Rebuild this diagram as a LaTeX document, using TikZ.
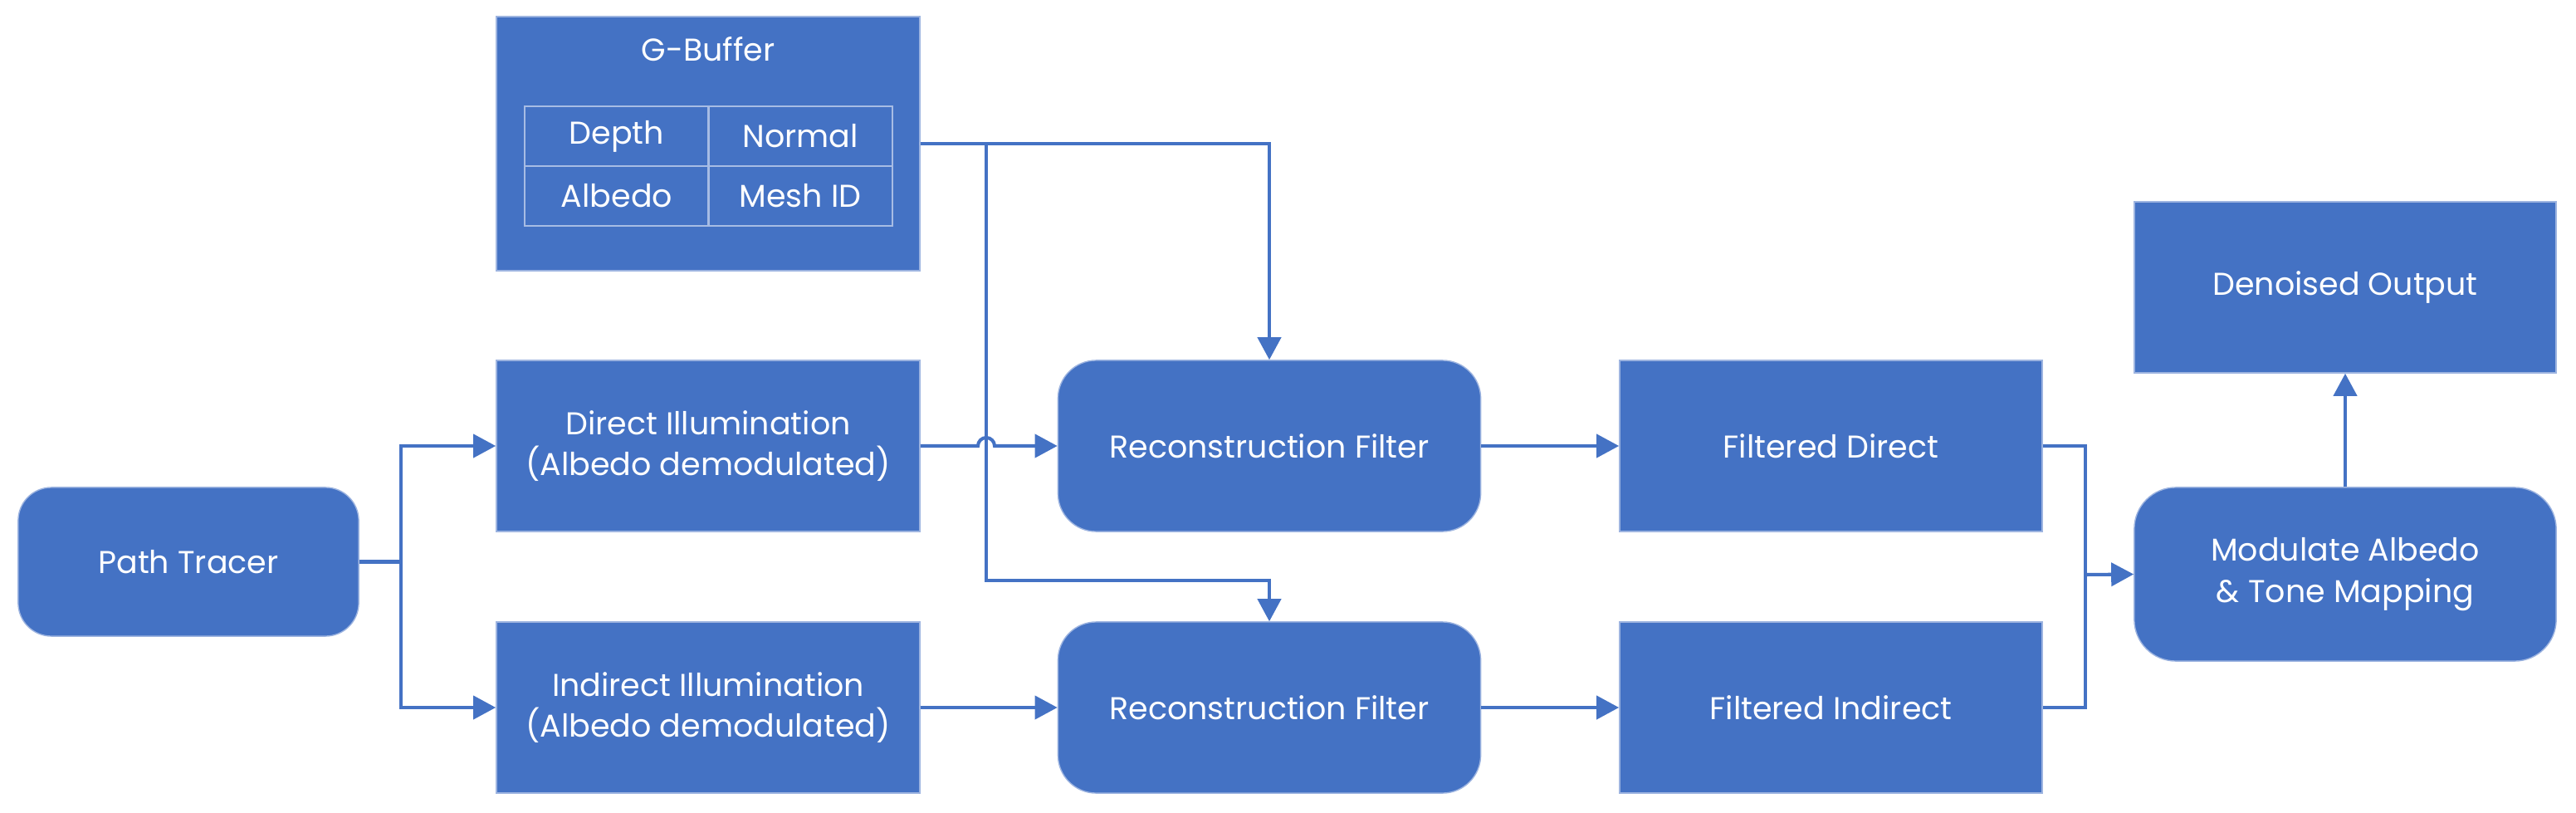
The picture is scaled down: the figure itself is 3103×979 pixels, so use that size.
\documentclass[tikz,border=0pt]{standalone}
\usepackage{fontspec}
\setmainfont{Poppins}
\usetikzlibrary{arrows.meta}
\definecolor{boxblue}{HTML}{4472C4}
\definecolor{edgeblue}{HTML}{9DB4E0}
\definecolor{gridline}{HTML}{A7BCE4}
\tikzset{
  base/.style={fill=boxblue, draw=edgeblue, line width=0.4pt, text=white, align=center,
    inner sep=0pt, font=\fontsize{10.8}{14}\selectfont},
  sqbox/.style={base, minimum width=5.10cm, minimum height=2.06cm},
  rndbox/.style={base, minimum width=5.09cm, minimum height=2.06cm, rounded corners=0.46cm},
  cellbox/.style={draw=gridline, line width=0.6pt, text=white, inner sep=0pt,
    minimum width=2.21cm, minimum height=0.72cm, font=\fontsize{10.8}{14}\selectfont},
  conn/.style={draw=boxblue, line width=1.15pt},
  arr/.style={conn, -{Triangle[length=0.27cm, width=0.28cm]}},
}
\begin{document}
\begin{tikzpicture}[x=0.01cm, y=-0.01cm]
\useasboundingbox (0,0) rectangle (3103,979);
% nodes
\node[base, minimum width=4.10cm, minimum height=1.79cm, rounded corners=0.40cm] (pt) at (227,676.5) {Path Tracer};
\node[sqbox, minimum height=3.06cm] (gbuf) at (853,173) {};
\node[text=white, inner sep=0pt, font=\fontsize{10.8}{14}\selectfont] (gtitle) at (853,59) {G-Buffer};
\node[cellbox] (depth) at (743,164) {Depth};
\node[cellbox] (normal) at (964,164) {Normal};
\node[cellbox] (albedo) at (743,236) {Albedo};
\node[cellbox] (meshid) at (964,236) {Mesh ID};
\node[sqbox] (direct) at (853,537) {Direct Illumination\\(Albedo demodulated)};
\node[sqbox] (indirect) at (853,852) {Indirect Illumination\\(Albedo demodulated)};
\node[rndbox] (recon1) at (1529,537) {Reconstruction Filter};
\node[rndbox] (recon2) at (1529,852) {Reconstruction Filter};
\node[sqbox, minimum width=5.09cm] (fd) at (2205.5,537) {Filtered Direct};
\node[sqbox, minimum width=5.09cm] (fi) at (2205.5,852) {Filtered Indirect};
\node[rndbox, minimum width=5.08cm, minimum height=2.09cm, rounded corners=0.5cm] (mod) at (2825,691.5) {Modulate Albedo\\\& Tone Mapping};
\node[sqbox, minimum width=5.08cm] (den) at (2825,346) {Denoised Output};
% coordinates
\coordinate (ptsplit) at (483,676.5);
\coordinate (gsplit) at (1188,173);
\coordinate (gturn) at (1188,699);
\coordinate (hopa) at (1178,537);
\coordinate (mj) at (2512,692);
% connectors
\draw[conn] (pt.east) -- (ptsplit);
\draw[arr] (ptsplit) |- (direct.west);
\draw[arr] (ptsplit) |- (indirect.west);
\draw[arr] (gbuf.east) -| (recon1.north);
\draw[arr] (gsplit) -- (gturn) -| (recon2.north);
\draw[arr] (direct.east) -- (hopa) arc[start angle=180, end angle=0, radius=0.1cm] -- (recon1.west);
\draw[arr] (indirect.east) -- (recon2.west);
\draw[arr] (recon1.east) -- (fd.west);
\draw[arr] (recon2.east) -- (fi.west);
\draw[conn] (fd.east) -| (mj);
\draw[conn] (fi.east) -| (mj);
\draw[arr] (mj) -- (mod.west);
\draw[arr] (mod.north) -- (den.south);
\end{tikzpicture}
\end{document}
